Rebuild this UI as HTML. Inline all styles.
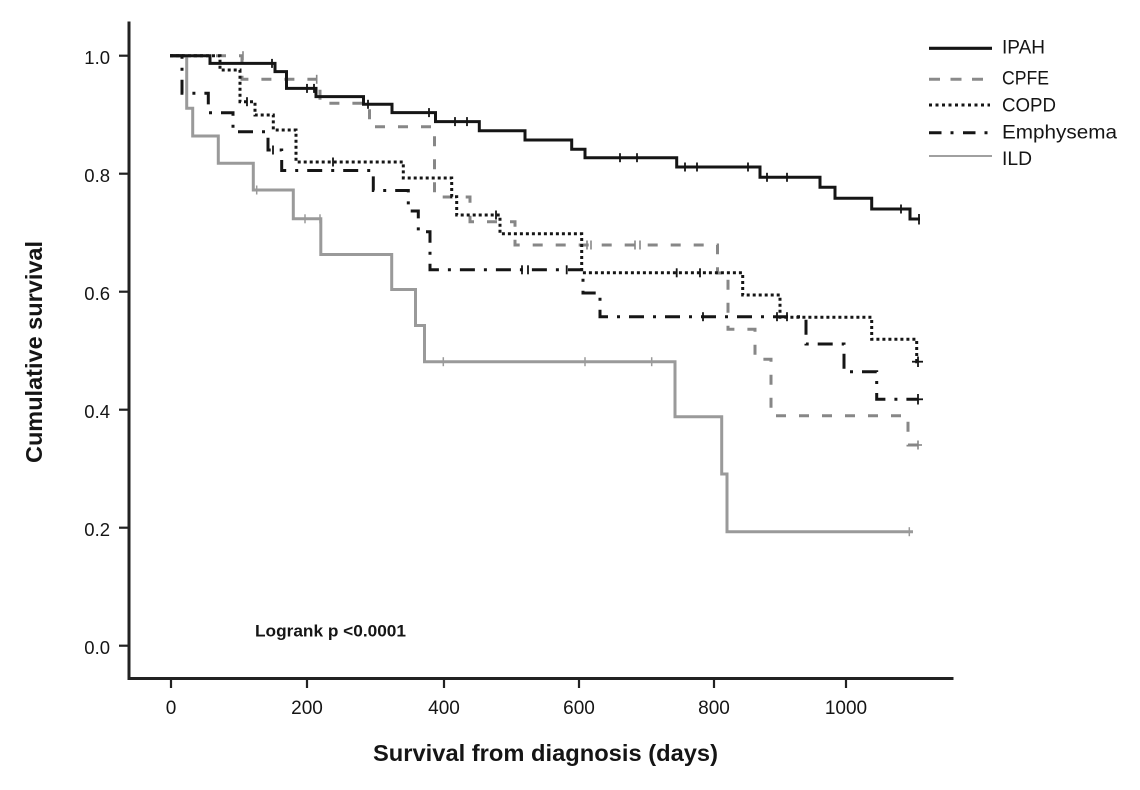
<!DOCTYPE html>
<html>
<head>
<meta charset="utf-8">
<style>
  html, body { margin:0; padding:0; background:#fff; }
  svg { display:block; }
  text { font-family: "Liberation Sans", Arial, sans-serif; fill:#151515; }
</style>
</head>
<body>
<svg width="1140" height="790" viewBox="0 0 1140 790" xmlns="http://www.w3.org/2000/svg">
  <rect x="0" y="0" width="1140" height="790" fill="#ffffff"/>

  <!-- Axes -->
  <g stroke="#222" stroke-width="3" fill="none" stroke-linecap="square">
    <line x1="129" y1="23" x2="129" y2="678.5"/>
    <line x1="129" y1="678.5" x2="952" y2="678.5"/>
  </g>
  <!-- Y ticks -->
  <g stroke="#222" stroke-width="2.2">
    <line x1="119" y1="55.7" x2="129" y2="55.7"/>
    <line x1="119" y1="173.7" x2="129" y2="173.7"/>
    <line x1="119" y1="291.7" x2="129" y2="291.7"/>
    <line x1="119" y1="409.7" x2="129" y2="409.7"/>
    <line x1="119" y1="527.7" x2="129" y2="527.7"/>
    <line x1="119" y1="645.7" x2="129" y2="645.7"/>
  </g>
  <!-- X ticks -->
  <g stroke="#222" stroke-width="2.2">
    <line x1="171" y1="678" x2="171" y2="688"/>
    <line x1="307" y1="678" x2="307" y2="688"/>
    <line x1="444" y1="678" x2="444" y2="688"/>
    <line x1="579" y1="678" x2="579" y2="688"/>
    <line x1="714" y1="678" x2="714" y2="688"/>
    <line x1="846" y1="678" x2="846" y2="688"/>
  </g>

  <!-- Y tick labels -->
  <g font-size="18.5" text-anchor="end">
    <text x="110" y="64">1.0</text>
    <text x="110" y="182">0.8</text>
    <text x="110" y="300">0.6</text>
    <text x="110" y="418">0.4</text>
    <text x="110" y="536">0.2</text>
    <text x="110" y="654">0.0</text>
  </g>
  <!-- X tick labels -->
  <g font-size="19" text-anchor="middle">
    <text x="171" y="714">0</text>
    <text x="307" y="714">200</text>
    <text x="444" y="714">400</text>
    <text x="579" y="714">600</text>
    <text x="714" y="714">800</text>
    <text x="846" y="714">1000</text>
  </g>

  <!-- Axis titles -->
  <text x="373" y="761" font-size="23.5" font-weight="bold" textLength="345" lengthAdjust="spacingAndGlyphs">Survival from diagnosis (days)</text>
  <text transform="translate(42,352) rotate(-90)" font-size="23.5" font-weight="bold" text-anchor="middle">Cumulative survival</text>

  <!-- Logrank -->
  <text x="255" y="636.5" font-size="17" font-weight="bold" textLength="151" lengthAdjust="spacingAndGlyphs">Logrank p &lt;0.0001</text>

  <!-- ILD (grey solid) -->
  <path d="M170,55.7 H186.7 V108.3 H192.7 V136 H218.3 V163.3 H253.3 V190 H293.3 V218.8 H320.8 V254.5 H391.7 V289.5 H415.5 V325.5 H424.5 V361.7 H675 V416.7 H721.7 V474 H727 V531.7 H913"
        fill="none" stroke="#9a9a9a" stroke-width="3"/>
  <g stroke="#9a9a9a" stroke-width="1.5">
    <line x1="256.7" y1="185.5" x2="256.7" y2="194.5"/>
    <line x1="305" y1="214.3" x2="305" y2="223.3"/>
    <line x1="320" y1="214.3" x2="320" y2="223.3"/>
    <line x1="443.3" y1="357.2" x2="443.3" y2="366.2"/>
    <line x1="585" y1="357.2" x2="585" y2="366.2"/>
    <line x1="651.7" y1="357.2" x2="651.7" y2="366.2"/>
    <line x1="909.3" y1="527.2" x2="909.3" y2="536.2"/>
  </g>

  <!-- CPFE (grey dashed) -->
  <path d="M170,55.7 H242 V79.3 H320 V103.3 H369.5 V126.7 H434.5 V197 H470 V221.7 H515 V245 H717.5 V273 H728 V329.3 H755 V359.3 H771 V415.7 H908 V445 H918"
        fill="none" stroke="#878787" stroke-width="3" stroke-dasharray="10 13"/>
  <g stroke="#878787" stroke-width="1.6">
    <line x1="243" y1="51.2" x2="243" y2="60.2"/>
    <line x1="316.7" y1="74.8" x2="316.7" y2="83.8"/>
    <line x1="587" y1="240.5" x2="587" y2="249.5"/>
    <line x1="591" y1="240.5" x2="591" y2="249.5"/>
    <line x1="635" y1="240.5" x2="635" y2="249.5"/>
    <line x1="640" y1="240.5" x2="640" y2="249.5"/>
    <line x1="918" y1="440.5" x2="918" y2="449.5"/>
    <line x1="912" y1="445" x2="922" y2="445"/>
  </g>

  <!-- Emphysema (black dash-dot) -->
  <path d="M170,55.7 H182 V93.3 H208.3 V112.7 H233 V131.7 H268 V150 H281.7 V170.5 H373.3 V190.5 H408.3 V211 H418.3 V231.7 H430 V269.8 H583 V293 H600 V316.7 H806 V344 H844 V371.7 H876.7 V399.3 H918"
        fill="none" stroke="#151515" stroke-width="3" stroke-dasharray="15 9 3 9"/>
  <g stroke="#151515" stroke-width="1.8">
    <line x1="273" y1="145.5" x2="273" y2="154.5"/>
    <line x1="522" y1="265.3" x2="522" y2="274.3"/>
    <line x1="528" y1="265.3" x2="528" y2="274.3"/>
    <line x1="566.7" y1="265.3" x2="566.7" y2="274.3"/>
    <line x1="703" y1="312.2" x2="703" y2="321.2"/>
    <line x1="777" y1="312.2" x2="777" y2="321.2"/>
    <line x1="787" y1="312.2" x2="787" y2="321.2"/>
    <line x1="918" y1="394" x2="918" y2="404.5"/>
    <line x1="912" y1="399.3" x2="923" y2="399.3"/>
  </g>

  <!-- COPD (black dotted) -->
  <path d="M170,55.7 H220 V70 H240 V101.7 H255 V115 H273.3 V130 H296 V162 H403.3 V178 H451.7 V196.7 H456.7 V215 H500 V233.8 H581.7 V272.8 H742.7 V295 H780 V317.3 H871.7 V339.3 H916.7 V361.7 H920"
        fill="none" stroke="#151515" stroke-width="3" stroke-dasharray="3 3"/>
  <g stroke="#151515" stroke-width="1.8">
    <line x1="247" y1="97.2" x2="247" y2="106.2"/>
    <line x1="333" y1="157.5" x2="333" y2="166.5"/>
    <line x1="496" y1="210.5" x2="496" y2="219.5"/>
    <line x1="676.7" y1="268.3" x2="676.7" y2="277.3"/>
    <line x1="700" y1="268.3" x2="700" y2="277.3"/>
    <line x1="918" y1="356.5" x2="918" y2="367"/>
    <line x1="912" y1="361.7" x2="923" y2="361.7"/>
  </g>

  <!-- IPAH (black solid) -->
  <path d="M170,55.7 H210 V63.4 H275 V71.6 H286.5 V88.4 H316 V96.6 H363.5 V104.3 H392 V112.6 H435.5 V121.6 H479.3 V130.7 H525 V140 H571.7 V149.3 H585 V157.7 H676.7 V167 H760 V177.3 H820 V187.3 H835 V198.3 H871.7 V209 H910 V219 H920"
        fill="none" stroke="#151515" stroke-width="3"/>
  <g stroke="#151515" stroke-width="1.8">
    <line x1="272" y1="58.9" x2="272" y2="67.9"/>
    <line x1="307" y1="83.9" x2="307" y2="92.9"/>
    <line x1="314" y1="83.9" x2="314" y2="92.9"/>
    <line x1="368" y1="99.8" x2="368" y2="108.8"/>
    <line x1="429" y1="108.1" x2="429" y2="117.1"/>
    <line x1="455" y1="117.1" x2="455" y2="126.1"/>
    <line x1="467" y1="117.1" x2="467" y2="126.1"/>
    <line x1="620" y1="153.2" x2="620" y2="162.2"/>
    <line x1="637" y1="153.2" x2="637" y2="162.2"/>
    <line x1="685" y1="162.5" x2="685" y2="171.5"/>
    <line x1="697" y1="162.5" x2="697" y2="171.5"/>
    <line x1="748" y1="162.5" x2="748" y2="171.5"/>
    <line x1="767" y1="172.8" x2="767" y2="181.8"/>
    <line x1="787" y1="172.8" x2="787" y2="181.8"/>
    <line x1="901" y1="204.5" x2="901" y2="213.5"/>
    <line x1="919" y1="214" x2="919" y2="224.5"/>
  </g>

  <!-- Legend -->
  <line x1="929" y1="48.3" x2="992" y2="48.3" stroke="#151515" stroke-width="3.2"/>
  <line x1="929" y1="79.3" x2="984" y2="79.3" stroke="#8a8a8a" stroke-width="3" stroke-dasharray="11 10.5"/>
  <line x1="929" y1="105" x2="990" y2="105" stroke="#151515" stroke-width="3" stroke-dasharray="3 3.5"/>
  <line x1="929" y1="132.7" x2="991" y2="132.7" stroke="#151515" stroke-width="3" stroke-dasharray="12.5 9 3 9.5"/>
  <line x1="929" y1="156" x2="992" y2="156" stroke="#a0a0a0" stroke-width="2"/>
  <g font-size="19">
    <text x="1002" y="53.5" textLength="43" lengthAdjust="spacingAndGlyphs">IPAH</text>
    <text x="1002" y="84.5" textLength="47" lengthAdjust="spacingAndGlyphs">CPFE</text>
    <text x="1002" y="111.5" textLength="54" lengthAdjust="spacingAndGlyphs">COPD</text>
    <text x="1002" y="138.5" textLength="115" lengthAdjust="spacingAndGlyphs">Emphysema</text>
    <text x="1002" y="165" textLength="30" lengthAdjust="spacingAndGlyphs">ILD</text>
  </g>
</svg>
</body>
</html>
